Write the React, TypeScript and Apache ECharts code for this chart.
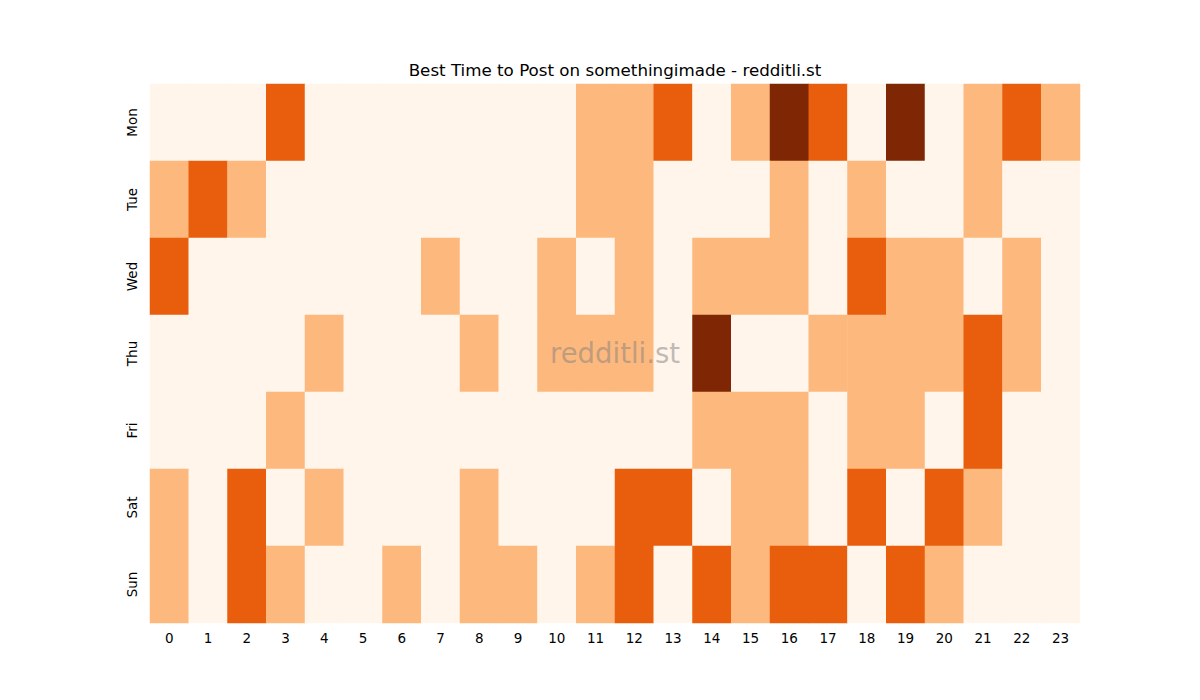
import * as echarts from "echarts";
import { useEffect, useRef } from "react";

const hours = Array.from({ length: 24 }, (_, i) => String(i));
const days = ["Mon", "Tue", "Wed", "Thu", "Fri", "Sat", "Sun"];

const mon = [0, 0, 0, 2, 0, 0, 0, 0, 0, 0, 0, 1, 1, 2, 0, 1, 3, 2, 0, 3, 0, 1, 2, 1];
const tue = [1, 2, 1, 0, 0, 0, 0, 0, 0, 0, 0, 1, 1, 0, 0, 0, 1, 0, 1, 0, 0, 1, 0, 0];
const wed = [2, 0, 0, 0, 0, 0, 0, 1, 0, 0, 1, 0, 1, 0, 1, 1, 1, 0, 2, 1, 1, 0, 1, 0];
const thu = [0, 0, 0, 0, 1, 0, 0, 0, 1, 0, 1, 1, 1, 0, 3, 0, 0, 1, 1, 1, 1, 2, 1, 0];
const fri = [0, 0, 0, 1, 0, 0, 0, 0, 0, 0, 0, 0, 0, 0, 1, 1, 1, 0, 1, 1, 0, 2, 0, 0];
const sat = [1, 0, 2, 0, 1, 0, 0, 0, 1, 0, 0, 0, 2, 2, 0, 1, 1, 0, 2, 0, 2, 1, 0, 0];
const sun = [1, 0, 2, 1, 0, 0, 1, 0, 1, 1, 0, 1, 2, 0, 2, 1, 2, 2, 0, 2, 1, 0, 0, 0];

const rows = [mon, tue, wed, thu, fri, sat, sun];

const levelColors = ["#fff5eb", "#fdb87d", "#e95e0d", "#7f2704"];

const font = "DejaVu Sans";

const data: number[][] = [];
rows.forEach((row, y) => row.forEach((v, x) => data.push([x, y, v])));

const option: echarts.EChartsOption = {
	animation: false,
	textStyle: { fontFamily: font },
	grid: { left: 150, top: 84, width: 930, height: 539 },
	xAxis: {
		type: "category",
		data: hours,
		axisLine: { show: false },
		axisTick: { alignWithLabel: true, length: 5, lineStyle: { color: "#000" } },
		axisLabel: { color: "#000", fontSize: 13.5, fontFamily: font, margin: 8 },
		splitArea: { show: false }
	},
	yAxis: {
		type: "category",
		data: days,
		inverse: true,
		axisLine: { show: false },
		axisTick: { alignWithLabel: true, length: 5, lineStyle: { color: "#000" } },
		axisLabel: { color: "#000", fontSize: 13.5, fontFamily: font, rotate: 90, margin: 11 },
		splitArea: { show: false }
	},
	visualMap: {
		type: "piecewise",
		show: false,
		dimension: 2,
		pieces: levelColors.map((c, i) => ({ value: i, color: c }))
	},
	series: [
		{
			type: "heatmap",
			data,
			itemStyle: { borderWidth: 0 },
			emphasis: { disabled: true }
		}
	],
	graphic: [
		{
			type: "text",
			x: 615,
			y: 70,
			z: 100,
			style: {
				text: "Best Time to Post on somethingimade - redditli.st",
				fill: "#000",
				font: `16.7px ${font}`,
				align: "center",
				verticalAlign: "middle"
			}
		},
		{
			type: "text",
			x: 615,
			y: 353,
			z: 100,
			style: {
				text: "redditli.st",
				fill: "rgba(128,128,128,0.5)",
				font: `27.5px ${font}`,
				align: "center",
				verticalAlign: "middle"
			}
		}
	]
};

const App = () => {
	const chartRef = useRef<HTMLDivElement>(null);

	useEffect(() => {
		const chart = echarts.init(chartRef.current!, null, { renderer: "svg" });
		chart.setOption(option);

		return () => {
			chart.dispose();
		};
	}, []);

	return (
		<div
			ref={chartRef}
			style={{ position: "absolute", left: 0, top: 0, width: "1200px", height: "700px", background: "#fff" }}
		/>
	);
};

export default App;
